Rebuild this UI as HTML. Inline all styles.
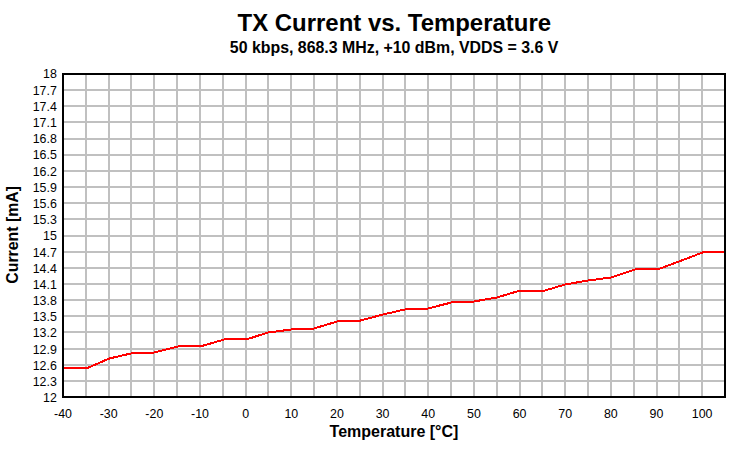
<!DOCTYPE html>
<html><head><meta charset="utf-8"><title>TX Current vs. Temperature</title>
<style>
html,body{margin:0;padding:0;background:#fff;}
body{width:752px;height:449px;overflow:hidden;}
svg{display:block;font-family:"Liberation Sans",Arial,sans-serif;}
.t{font-size:12.4px;fill:#000;}
.b{font-weight:bold;fill:#000;}
</style></head><body>
<svg width="752" height="449" viewBox="0 0 752 449">
<rect width="752" height="449" fill="#fff"/>

<g fill="#c0c0c0" shape-rendering="crispEdges">
<rect x="85" y="74" width="2" height="323"/>
<rect x="108" y="74" width="2" height="323"/>
<rect x="130" y="74" width="2" height="323"/>
<rect x="153" y="74" width="2" height="323"/>
<rect x="176" y="74" width="2" height="323"/>
<rect x="199" y="74" width="2" height="323"/>
<rect x="222" y="74" width="2" height="323"/>
<rect x="245" y="74" width="2" height="323"/>
<rect x="267" y="74" width="2" height="323"/>
<rect x="290" y="74" width="2" height="323"/>
<rect x="313" y="74" width="2" height="323"/>
<rect x="336" y="74" width="2" height="323"/>
<rect x="359" y="74" width="2" height="323"/>
<rect x="382" y="74" width="2" height="323"/>
<rect x="404" y="74" width="2" height="323"/>
<rect x="427" y="74" width="2" height="323"/>
<rect x="450" y="74" width="2" height="323"/>
<rect x="473" y="74" width="2" height="323"/>
<rect x="496" y="74" width="2" height="323"/>
<rect x="519" y="74" width="2" height="323"/>
<rect x="541" y="74" width="2" height="323"/>
<rect x="564" y="74" width="2" height="323"/>
<rect x="587" y="74" width="2" height="323"/>
<rect x="610" y="74" width="2" height="323"/>
<rect x="633" y="74" width="2" height="323"/>
<rect x="656" y="74" width="2" height="323"/>
<rect x="678" y="74" width="2" height="323"/>
<rect x="701" y="74" width="2" height="323"/>
<rect x="63" y="89" width="662" height="2"/>
<rect x="63" y="105" width="662" height="2"/>
<rect x="63" y="121" width="662" height="2"/>
<rect x="63" y="138" width="662" height="2"/>
<rect x="63" y="154" width="662" height="2"/>
<rect x="63" y="170" width="662" height="2"/>
<rect x="63" y="186" width="662" height="2"/>
<rect x="63" y="202" width="662" height="2"/>
<rect x="63" y="218" width="662" height="2"/>
<rect x="63" y="235" width="662" height="2"/>
<rect x="63" y="251" width="662" height="2"/>
<rect x="63" y="267" width="662" height="2"/>
<rect x="63" y="283" width="662" height="2"/>
<rect x="63" y="299" width="662" height="2"/>
<rect x="63" y="315" width="662" height="2"/>
<rect x="63" y="331" width="662" height="2"/>
<rect x="63" y="348" width="662" height="2"/>
<rect x="63" y="364" width="662" height="2"/>
<rect x="63" y="380" width="662" height="2"/>
</g>
<polyline points="63.00,368.00 88.33,367.55 109.51,358.45 130.98,353.45 153.81,352.55 178.64,346.45 203.47,345.55 224.29,339.45 249.12,338.55 268.25,332.45 291.78,329.45 313.60,328.55 337.43,321.45 360.26,320.55 383.29,314.45 404.91,309.45 427.74,308.55 451.57,302.45 473.40,301.55 497.12,297.45 517.05,291.45 544.88,290.55 565.21,284.45 588.53,280.45 611.21,277.45 635.19,269.45 660.02,268.55 679.19,261.45 702.67,252.45 725.00,252.00" fill="none" stroke="#ff0000" stroke-width="2" shape-rendering="crispEdges" stroke-linejoin="round"/>
<rect x="63" y="74" width="662" height="323" fill="none" stroke="#000" stroke-width="2" shape-rendering="crispEdges"/>
<g class="t" text-anchor="end">
<text transform="translate(56.8,78.45) scale(1,1.07)">18</text>
<text transform="translate(56.8,94.64) scale(1,1.07)">17.7</text>
<text transform="translate(56.8,110.83) scale(1,1.07)">17.4</text>
<text transform="translate(56.8,127.02) scale(1,1.07)">17.1</text>
<text transform="translate(56.8,143.21) scale(1,1.07)">16.8</text>
<text transform="translate(56.8,159.40) scale(1,1.07)">16.5</text>
<text transform="translate(56.8,175.59) scale(1,1.07)">16.2</text>
<text transform="translate(56.8,191.78) scale(1,1.07)">15.9</text>
<text transform="translate(56.8,207.97) scale(1,1.07)">15.6</text>
<text transform="translate(56.8,224.16) scale(1,1.07)">15.3</text>
<text transform="translate(56.8,240.35) scale(1,1.07)">15</text>
<text transform="translate(56.8,256.54) scale(1,1.07)">14.7</text>
<text transform="translate(56.8,272.73) scale(1,1.07)">14.4</text>
<text transform="translate(56.8,288.92) scale(1,1.07)">14.1</text>
<text transform="translate(56.8,305.11) scale(1,1.07)">13.8</text>
<text transform="translate(56.8,321.30) scale(1,1.07)">13.5</text>
<text transform="translate(56.8,337.49) scale(1,1.07)">13.2</text>
<text transform="translate(56.8,353.68) scale(1,1.07)">12.9</text>
<text transform="translate(56.8,369.87) scale(1,1.07)">12.6</text>
<text transform="translate(56.8,386.06) scale(1,1.07)">12.3</text>
<text transform="translate(56.8,402.25) scale(1,1.07)">12</text>
</g>
<g class="t" text-anchor="middle">
<text transform="translate(63.00,418) scale(1,1.07)">-40</text>
<text transform="translate(108.66,418) scale(1,1.07)">-30</text>
<text transform="translate(154.31,418) scale(1,1.07)">-20</text>
<text transform="translate(199.97,418) scale(1,1.07)">-10</text>
<text transform="translate(245.62,418) scale(1,1.07)">0</text>
<text transform="translate(291.28,418) scale(1,1.07)">10</text>
<text transform="translate(336.93,418) scale(1,1.07)">20</text>
<text transform="translate(382.59,418) scale(1,1.07)">30</text>
<text transform="translate(428.24,418) scale(1,1.07)">40</text>
<text transform="translate(473.90,418) scale(1,1.07)">50</text>
<text transform="translate(519.55,418) scale(1,1.07)">60</text>
<text transform="translate(565.21,418) scale(1,1.07)">70</text>
<text transform="translate(610.86,418) scale(1,1.07)">80</text>
<text transform="translate(656.52,418) scale(1,1.07)">90</text>
<text transform="translate(702.17,418) scale(1,1.07)">100</text>
</g>
<text class="b" x="394.3" y="31" text-anchor="middle" font-size="23.95">TX Current vs. Temperature</text>
<text class="b" x="394.1" y="52.5" text-anchor="middle" font-size="15.9">50 kbps, 868.3 MHz, +10 dBm, VDDS = 3.6 V</text>
<text class="b" x="394" y="437" text-anchor="middle" font-size="16">Temperature [°C]</text>
<text class="b" transform="translate(17.5,234.85) rotate(-90)" text-anchor="middle" font-size="15.83">Current [mA]</text>
</svg></body></html>
